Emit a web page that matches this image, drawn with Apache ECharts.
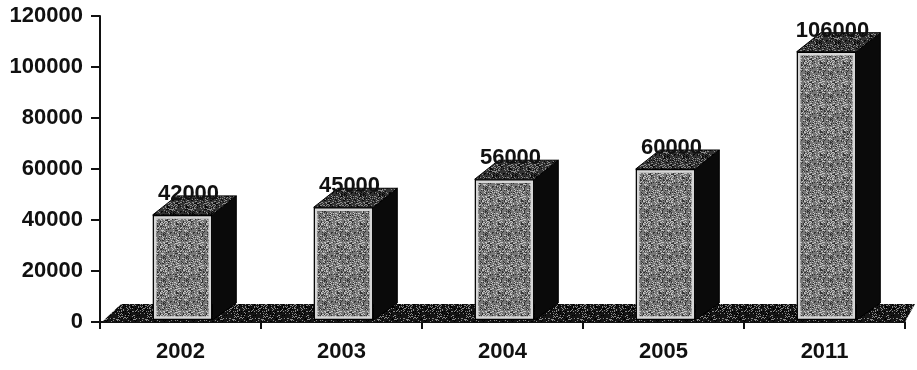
<!DOCTYPE html>
<html>
<head>
<meta charset="utf-8">
<script src="https://cdn.jsdelivr.net/npm/echarts@6/dist/echarts.min.js"></script>
<style>
html,body{margin:0;padding:0;background:#fff;}
#chart{width:917px;height:370px;}
</style>
</head>
<body>
<div id="chart"></div>
<script>
const categories = ['2002', '2003', '2004', '2005', '2011'];
const values = [42000, 45000, 56000, 60000, 106000];
const yTicks = [0, 20000, 40000, 60000, 80000, 100000, 120000];

const FONT = '"Liberation Sans", Arial, sans-serif';

function speckle(base, light, dark, size) {
  const c = document.createElement('canvas');
  c.width = size; c.height = size;
  const g = c.getContext('2d');
  g.fillStyle = base; g.fillRect(0, 0, size, size);
  for (let i = 0; i < size; i++) {
    for (let j = 0; j < size; j++) {
      const h = ((i * 73856093) ^ (j * 19349663)) >>> 0;
      const m = h % 17;
      if (m < 3) { g.fillStyle = light; g.fillRect(i, j, 1, 1); }
      else if (m > 13) { g.fillStyle = dark; g.fillRect(i, j, 1, 1); }
    }
  }
  return { image: c, repeat: 'repeat' };
}
const frontFill = speckle('#767676', '#c4c4c4', '#333333', 23);
const topFill = speckle('#333333', '#8a8a8a', '#0a0a0a', 19);
const floorFill = speckle('#151515', '#8a8a8a', '#000000', 29);

const DX = 24, DY = 19;

const chart = echarts.init(document.getElementById('chart'));
chart.setOption({
  animation: false,
  backgroundColor: '#fff',
  grid: { left: 100, right: 12, top: 16, bottom: 48 },
  xAxis: {
    type: 'category',
    data: categories,
    boundaryGap: true,
    axisLine: { lineStyle: { color: '#111', width: 2 } },
    axisTick: { show: true, length: 7, lineStyle: { color: '#111', width: 2 } },
    axisLabel: { color: '#111', fontWeight: 'bold', fontSize: 22, fontFamily: FONT, margin: 19 },
    splitLine: { show: false }
  },
  yAxis: {
    type: 'value',
    min: yTicks[0],
    max: yTicks[yTicks.length - 1],
    interval: yTicks[1] - yTicks[0],
    axisLine: { show: true, lineStyle: { color: '#111', width: 2 } },
    axisTick: { show: true, length: 9, lineStyle: { color: '#111', width: 2 } },
    axisLabel: {
      color: '#111', fontWeight: 'bold', fontSize: 22, fontFamily: FONT, margin: 17,
      formatter: function (v) { return String(v); }
    },
    splitLine: { show: false }
  },
  series: [
    {
      type: 'custom',
      z: 1,
      data: [[0, 0]],
      renderItem: function (params, api) {
        const cs = params.coordSys;
        const base = api.coord([0, 0])[1];
        const l = cs.x, r = cs.x + cs.width;
        return {
          type: 'polygon',
          shape: { points: [[l + 2, base], [l + 21, base - 18], [r + 10, base - 18], [r, base]] },
          style: { fill: floorFill }
        };
      }
    },
    {
      type: 'custom',
      z: 2,
      data: values.map((v, i) => [i, v]),
      renderItem: function (params, api) {
        const i = api.value(0), v = api.value(1);
        const top = api.coord([i, v]);
        const base = api.coord([i, 0]);
        const bw = api.size([1, 0])[0] * 0.37;
        const cx = top[0] + 2;
        const x0 = cx - bw / 2, x1 = cx + bw / 2;
        const ty = top[1], by = base[1] - 2;
        return {
          type: 'group',
          children: [
            {
              type: 'polygon',
              shape: { points: [[x1, ty], [x1 + DX, ty - DY], [x1 + DX, by - DY + 2], [x1, by]] },
              style: { fill: '#0a0a0a', stroke: '#000', lineWidth: 1 }
            },
            {
              type: 'polygon',
              shape: { points: [[x0, ty], [x0 + DX, ty - DY], [x1 + DX, ty - DY], [x1, ty]] },
              style: { fill: topFill, stroke: '#000', lineWidth: 1 }
            },
            {
              type: 'rect',
              shape: { x: x0, y: ty, width: bw, height: by - ty },
              style: { fill: '#000' }
            },
            {
              type: 'rect',
              shape: { x: x0 + 2.5, y: ty + 2.5, width: bw - 5, height: by - ty - 5 },
              style: { fill: frontFill, stroke: '#d6d6d6', lineWidth: 2.5 }
            },
            {
              type: 'text',
              z2: 10,
              style: {
                text: String(v),
                x: cx + 6,
                y: ty - 10,
                textAlign: 'center',
                textVerticalAlign: 'bottom',
                font: 'bold 22px ' + FONT,
                fill: '#111'
              }
            }
          ]
        };
      }
    }
  ]
});
</script>
</body>
</html>
